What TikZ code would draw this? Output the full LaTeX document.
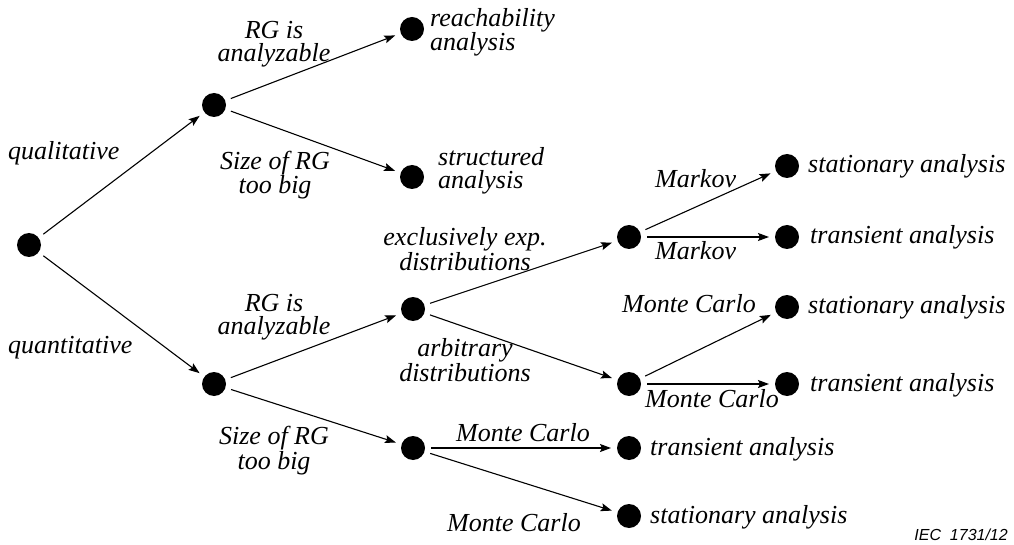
\documentclass[tikz,border=0pt]{standalone}
\usepackage{fontspec}
\setmainfont{Liberation Serif}
\setsansfont{Liberation Sans}
\usetikzlibrary{arrows.meta}
\begin{document}
\begin{tikzpicture}[x=1pt,y=-1pt,
  dot/.style={circle,fill=black,minimum size=24pt,inner sep=0pt,outer sep=6pt},
  lbl/.style={font=\itshape\fontsize{26}{23}\selectfont,inner sep=0pt,align=center,anchor=base},
  side/.style={font=\itshape\fontsize{26}{23}\selectfont,inner sep=0pt,align=left,anchor=base west},
  arr/.style={-{Stealth[length=11pt,width=8pt,inset=2pt]},line width=1.1pt}]
\useasboundingbox (0,0) rectangle (1014,545);

% decision points
\node[dot] (root) at (29,245) {};
\node[dot] (A) at (214,105) {};
\node[dot] (B) at (214,384) {};
\node[dot] (R) at (412,29) {};
\node[dot] (S) at (412,177) {};
\node[dot] (C) at (413,309) {};
\node[dot] (D) at (413,448) {};
\node[dot] (E) at (629,237) {};
\node[dot] (F) at (629,384) {};
\node[dot] (E1) at (787,166) {};
\node[dot] (E2) at (787,237) {};
\node[dot] (F1) at (787,307) {};
\node[dot] (F2) at (787,384) {};
\node[dot] (D1) at (629,448) {};
\node[dot] (D2) at (629,516) {};

% branches
\draw[arr] (root) -- (A);
\draw[arr] (root) -- (B);
\draw[arr] (A) -- (R);
\draw[arr] (A) -- (S);
\draw[arr] (B) -- (C);
\draw[arr] (B) -- (D);
\draw[arr] (C) -- (E);
\draw[arr] (C) -- (F);
\draw[arr] (E) -- (E1);
\draw[arr] (E) -- (E2);
\draw[arr] (F) -- (F1);
\draw[arr] (F) -- (F2);
\draw[arr] (D) -- (D1);
\draw[arr] (D) -- (D2);

% branch labels (multi-line nodes sit on the baseline of their last line)
\node[side] (lqual) at (8,160) {qualitative};
\node[side] (lquan) at (8,353) {quantitative};
\node[lbl] (lAR) at (274,62) {RG is\\analyzable};
\node[lbl] (lAS) at (275,194) {Size of RG\\too big};
\node[lbl] (lBC) at (274,334) {RG is\\analyzable};
\node[lbl] (lBD) at (274,469) {Size of RG\\too big};
\node[lbl] (lCE) at (465,270) {exclusively exp.\\distributions};
\node[lbl] (lCF) at (465,381) {arbitrary\\distributions};
\node[side] (lE1) at (655,188) {Markov};
\node[side] (lE2) at (655,260) {Markov};
\node[side] (lF1) at (622,312) {Monte Carlo};
\node[side] (lF2) at (645,407) {Monte Carlo};
\node[side] (lD1) at (456,441) {Monte Carlo};
\node[side] (lD2) at (447,531) {Monte Carlo};

% outcomes
\node[side] (tR) at (430,51) {reachability\\analysis};
\node[side] (tS) at (438,189) {structured\\analysis};
\node[side] (tE1) at (808,173) {stationary analysis};
\node[side] (tE2) at (810,244) {transient analysis};
\node[side] (tF1) at (808,313) {stationary analysis};
\node[side] (tF2) at (810,391) {transient analysis};
\node[side] (tD1) at (650,455) {transient analysis};
\node[side] (tD2) at (650,523) {stationary analysis};

% figure reference
\node[font=\sffamily\itshape\fontsize{16}{18}\selectfont,inner sep=0pt,anchor=base east] (ref) at (1008,540) {IEC\ \ 1731/12};
\end{tikzpicture}
\end{document}
